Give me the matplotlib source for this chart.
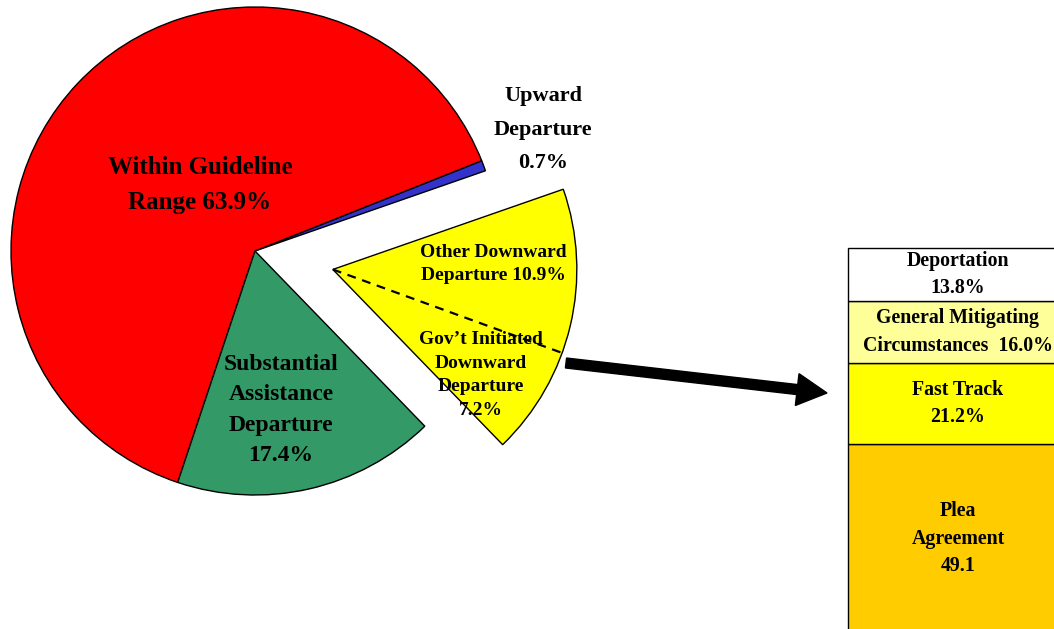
import numpy as np
import matplotlib
matplotlib.use("Agg")
import matplotlib.pyplot as plt
from matplotlib.patches import Wedge

# Pie data (counterclockwise from the upward slice)
pie_names = ["Upward Departure", "Within Guideline Range",
             "Substantial Assistance Departure",
             "Gov't Initiated Downward Departure", "Other Downward Departure"]
pie_values = [0.7, 63.9, 17.4, 7.2, 10.9]
pie_colors = ["#3333CC", "#FF0000", "#339966", "#FFFF00", "#FFFF00"]

# Breakdown bar (bottom to top)
bar_values = [49.1, 21.2, 16.0, 13.8]
bar_labels = ["Plea\nAgreement\n49.1", "Fast Track\n21.2%",
              "General Mitigating\nCircumstances  16.0%", "Deportation\n13.8%"]
bar_colors = ["#FFCC00", "#FFFF00", "#FFFF99", "#FFFFFF"]

W, H = 1054, 629
font = dict(family="Liberation Serif", weight="bold", color="black")

fig = plt.figure(figsize=(W / 100, H / 100), dpi=100)
ax = fig.add_axes([0, 0, 1, 1])

cx, cy, r = 255, H - 251, 244
wedges, _ = ax.pie(pie_values, colors=pie_colors, startangle=19.2,
                   center=(cx, cy), radius=r,
                   wedgeprops=dict(edgecolor="black", linewidth=1))

# pull the two yellow slices out together
gov, other = wedges[3], wedges[4]
t1, t2 = gov.theta1, other.theta2
mid = np.deg2rad((t1 + t2) / 2)
off = 80
ncx, ncy = cx + off * np.cos(mid), cy + off * np.sin(mid)
for w in (gov, other):
    w.set_center((ncx, ncy))
    w.set_linewidth(0)
ax.add_patch(Wedge((ncx, ncy), r, t1, t2, fill=False, edgecolor="black", lw=1))
split = np.deg2rad(gov.theta2)
ax.plot([ncx, ncx + r * np.cos(split)], [ncy, ncy + r * np.sin(split)],
        color="black", lw=1.6, ls=(0, (4, 3)))

ax.set_xlim(0, W)
ax.set_ylim(0, H)
ax.set_aspect("auto")
ax.axis("off")

ax.text(200, H - 185, "Within Guideline\nRange 63.9%", ha="center", va="center",
        fontsize=18, linespacing=1.7, **font)
ax.text(543, H - 130, "Upward\nDeparture\n0.7%", ha="center", va="center",
        fontsize=16, linespacing=1.9, **font)
ax.text(281, H - 410, "Substantial\nAssistance\nDeparture\n17.4%", ha="center",
        va="center", fontsize=17, linespacing=1.57, **font)
ax.text(493, H - 264, "Other Downward\nDeparture 10.9%", ha="center", va="center",
        fontsize=14, linespacing=1.45, **font)
ax.text(481, H - 375, "Gov\u2019t Initiated\nDownward\nDeparture\n7.2%", ha="center",
        va="center", fontsize=14, linespacing=1.5, **font)

ax.arrow(566, H - 363, 827 - 566, 363 - 393, width=10, head_width=32,
         head_length=30, length_includes_head=True, color="black")

# stacked breakdown bar
bx = fig.add_axes([848 / W, -4 / H, 220 / W, 385 / H])
bottoms = np.concatenate([[0], np.cumsum(bar_values)[:-1]])
bars = bx.bar(0, bar_values, bottom=bottoms, width=1, color=bar_colors,
              edgecolor="black", linewidth=1)
for b in bars:
    b.set_clip_on(False)
for val, btm, lab in zip(bar_values, bottoms, bar_labels):
    bx.text(0, btm + val / 2, lab, ha="center", va="center", fontsize=14.3,
            linespacing=1.5, **font)
bx.set_xlim(-0.5, 0.5)
bx.set_ylim(0, sum(bar_values))
bx.axis("off")

fig.savefig("out.png", dpi=100)
